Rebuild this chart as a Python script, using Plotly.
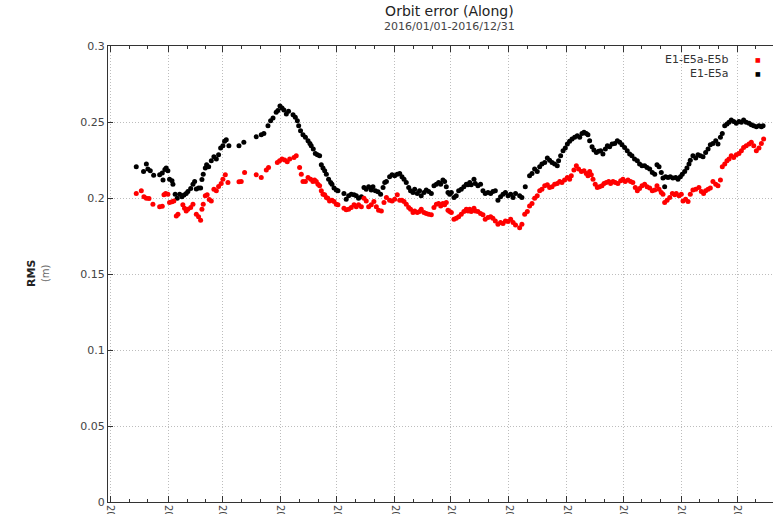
import pandas as pd
import plotly.graph_objects as go

# ---------------- data (day offset from 2016-01-01, RMS in metres) ----------------
e1e5a_days = [13.8,17.7,19.2,20.0,21.3,23.1,26.3,27.7,28.1,29.1,29.8,30.7,31.6,32.9,33.4,34.6,35.7,37.0,38.2,39.3,
              40.5,41.4,42.9,44.1,45.0,45.9,47.1,48.2,48.9,49.6,50.7,51.4,52.5,53.9,55.3,56.6,57.8,58.9,60.1,61.0,
              61.9,63.3,68.7,71.3,77.9,
              80.6,82.0,84.2,85.6,86.9,88.6,89.5,90.6,91.7,92.7,94.0,95.2,97.6,98.8,99.9,100.6,101.6,102.9,104.2,105.6,
              106.6,107.3,108.4,109.5,110.6,111.8,112.7,113.6,114.5,115.4,116.6,117.7,118.4,119.5,120.7,121.6,124.8,126.0,127.3,128.7,
              130.2,131.4,132.6,134.1,135.5,136.7,138.0,139.4,140.3,141.6,143.0,144.4,145.7,146.6,147.5,
              149.2,150.5,151.9,153.3,154.6,155.8,156.9,158.1,159.4,160.4,161.7,162.6,164.0,165.2,166.1,167.6,168.8,170.1,171.5,172.9,
              174.2,175.4,176.5,177.7,178.6,179.5,180.4,181.3,182.2,183.6,184.8,186.1,187.5,188.9,190.2,191.1,192.0,192.8,194.3,195.0,
              196.4,197.8,199.1,200.3,201.8,203.2,204.4,205.7,207.1,208.5,209.8,211.1,212.5,213.9,215.2,216.5,
              218.7,219.9,221.7,224.0,225.3,226.7,228.1,229.4,230.6,232.1,233.5,234.7,236.0,237.4,238.8,239.5,240.6,241.9,243.1,244.2,
              245.4,246.7,248.1,249.5,250.8,252.0,253.1,254.3,255.2,256.1,257.4,258.4,259.7,260.9,262.0,263.2,264.5,265.6,266.8,268.1,
              269.5,270.9,272.2,273.4,274.8,276.2,277.5,278.7,280.1,281.6,282.8,284.1,
              285.5,286.8,288.2,289.6,290.9,292.1,293.2,294.4,295.3,296.2,296.7,298.0,299.2,300.6,302.1,303.3,304.6,305.6,306.9,308.1,
              309.2,309.9,311.3,312.8,314.0,315.3,316.7,318.1,319.4,320.6,322.0,323.5,324.7,326.0,327.0,328.3,329.5,330.6,331.8,333.1,
              334.5,335.9,337.2,338.4,339.8,341.3,342.5,343.8,345.2,346.6,347.9,348.8]
e1e5a_rms = [0.2205,0.2175,0.2223,0.219,0.218,0.215,0.2153,0.2164,0.2118,0.2188,0.2197,0.218,0.2124,0.2113,0.2091,0.2025,0.1999,0.2025,0.2008,0.2019,
             0.203,0.2043,0.2063,0.2091,0.2109,0.206,0.2065,0.2065,0.2122,0.2157,0.2197,0.2219,0.2205,0.2245,0.2271,0.2256,0.2285,0.2329,0.2344,0.2373,
             0.2384,0.2344,0.2344,0.2366,0.2403,
             0.2416,0.2425,0.2476,0.2509,0.2526,0.2564,0.2575,0.2605,0.2592,0.2579,0.2553,0.257,0.2548,0.2531,0.2509,0.2476,0.2443,0.2416,0.2399,0.2377,
             0.2359,0.2344,0.2322,0.2293,0.2285,0.2278,0.2219,0.2197,0.2179,0.2157,0.2124,0.2102,0.2091,0.2065,0.2052,0.2047,0.203,0.1992,0.2014,0.2025,
             0.2021,0.2014,0.1999,0.2008,0.2069,0.2058,0.2074,0.2052,0.2074,0.2047,0.2041,0.2025,0.2069,0.2102,0.2109,
             0.214,0.2153,0.2146,0.2157,0.2162,0.214,0.2124,0.2102,0.2069,0.2047,0.2036,0.2058,0.203,0.2047,0.2014,0.2036,0.2052,0.2043,0.203,0.208,
             0.2091,0.2102,0.2091,0.2118,0.2109,0.2074,0.2036,0.2025,0.2036,0.2003,0.2014,0.2047,0.2058,0.2074,0.2091,0.2087,0.2102,0.2087,0.2124,0.2096,
             0.208,0.2091,0.2047,0.203,0.2036,0.203,0.2043,0.2047,0.1986,0.2008,0.2025,0.2036,0.2014,0.2025,0.2003,0.203,
             0.2014,0.2003,0.2074,0.2146,0.2162,0.219,0.2175,0.2205,0.2223,0.2234,0.2263,0.2249,0.2234,0.2223,0.2212,0.2245,0.2278,0.2311,0.2329,0.2355,
             0.2373,0.2388,0.2399,0.241,0.2399,0.2425,0.2432,0.2425,0.2416,0.2377,0.2337,0.2315,0.23,0.2307,0.2311,0.2289,0.2322,0.2344,0.2337,0.2355,
             0.2359,0.2377,0.2366,0.2351,0.2333,0.2311,0.2289,0.2278,0.2256,0.2245,0.2223,0.2212,
             0.2212,0.2201,0.219,0.2168,0.2157,0.2219,0.2205,0.2168,0.2131,0.2074,0.214,0.2135,0.214,0.2131,0.2135,0.2124,0.214,0.2157,0.2175,0.2197,
             0.2223,0.2249,0.2278,0.2263,0.2285,0.2278,0.2271,0.23,0.2322,0.2351,0.2359,0.2377,0.2355,0.2399,0.2425,0.2476,0.2487,0.2498,0.2513,0.2504,
             0.2491,0.2504,0.2498,0.2513,0.2498,0.2491,0.2482,0.2476,0.2469,0.2476,0.2469,0.2476]

e1e5ae5b_days = [13.8,16.5,17.9,19.2,20.6,22.7,26.3,27.7,28.6,29.5,30.7,31.6,32.9,33.9,35.2,36.1,38.7,39.6,40.5,41.4,
                 42.9,44.1,45.9,47.1,48.2,48.9,49.6,50.7,51.7,52.8,53.9,55.3,56.6,57.8,59.2,60.1,61.4,62.8,68.7,69.9,
                 71.7,77.9,
                 80.6,83.3,84.5,89.2,90.4,91.7,93.1,94.5,95.8,98.1,99.3,101.1,102.0,102.9,104.2,105.6,107.0,108.2,109.1,110.0,
                 110.9,111.8,112.7,113.6,114.5,115.4,116.2,117.1,118.4,119.5,120.7,121.6,124.8,126.0,127.3,128.7,130.2,131.4,132.6,134.1,
                 135.5,136.7,138.0,139.4,140.8,142.1,143.3,144.8,146.2,147.5,
                 149.2,150.5,151.9,153.3,154.6,155.8,156.9,158.1,159.4,160.4,161.7,162.6,164.0,165.2,166.1,167.6,168.8,170.1,171.5,172.9,
                 174.2,175.4,176.5,177.7,178.6,179.5,180.4,181.3,182.2,183.6,184.8,186.1,187.5,188.9,190.2,191.1,192.0,192.8,194.3,195.0,
                 196.4,197.8,199.1,200.3,201.8,203.2,204.4,205.7,207.1,208.5,209.8,211.1,212.5,213.9,215.2,216.5,
                 218.7,219.9,221.4,222.8,224.0,225.3,226.7,228.1,229.4,230.6,232.1,233.5,234.7,236.0,237.4,238.8,240.1,241.3,242.7,244.2,
                 245.4,246.3,247.7,249.0,250.2,251.7,253.1,254.3,255.2,256.1,257.0,257.9,259.1,260.2,261.4,262.7,263.8,265.0,266.3,267.3,
                 268.6,269.8,271.2,272.7,273.9,275.1,276.6,278.0,279.2,280.5,281.6,282.8,284.1,
                 285.5,286.8,288.2,289.6,290.9,292.1,293.2,294.4,295.3,296.2,297.5,298.9,300.3,301.6,302.4,303.9,305.1,306.0,307.4,308.7,
                 309.9,311.3,312.8,314.5,315.8,317.0,318.1,319.4,320.6,322.0,323.5,324.7,326.0,327.0,328.3,329.5,330.6,331.8,333.1,334.5,
                 335.9,337.2,338.4,339.8,341.3,342.5,343.8,345.2,346.6,347.9,349.1]
e1e5ae5b_rms = [0.203,0.2047,0.2008,0.1999,0.1997,0.1959,0.1942,0.1946,0.2021,0.203,0.2025,0.197,0.1975,0.1981,0.1882,0.1893,0.1955,0.1933,0.1915,0.1926,
                0.1937,0.1959,0.1893,0.1876,0.1854,0.1926,0.1959,0.2014,0.2021,0.199,0.1981,0.2058,0.2047,0.2076,0.2096,0.2124,0.2153,0.2102,0.2107,0.2109,
                0.2168,0.2153,
                0.2135,0.2184,0.2201,0.2234,0.2245,0.2256,0.225,0.2238,0.2256,0.2267,0.2278,0.2201,0.2157,0.2109,0.2109,0.2135,0.2124,0.2109,0.2118,0.2109,
                0.2091,0.208,0.2047,0.2025,0.2021,0.2003,0.1999,0.1981,0.1986,0.1977,0.1959,0.1955,0.1933,0.1922,0.1926,0.1937,0.1955,0.1942,0.1955,0.1942,
                0.1999,0.1981,0.1942,0.1955,0.1977,0.1942,0.192,0.1915,0.197,0.2003,
                0.1986,0.1981,0.1992,0.2021,0.1986,0.1986,0.1977,0.1959,0.1937,0.1926,0.1904,0.1915,0.1904,0.1911,0.1926,0.1904,0.1898,0.1893,0.1889,0.1937,
                0.1959,0.1964,0.1948,0.1964,0.1955,0.197,0.192,0.1911,0.1904,0.186,0.1867,0.1876,0.1893,0.1911,0.1926,0.1915,0.1926,0.1911,0.1933,0.1915,
                0.1911,0.1898,0.1889,0.186,0.1871,0.1876,0.1867,0.1849,0.1827,0.1838,0.1832,0.1849,0.1845,0.186,0.1838,0.1823,
                0.1805,0.1827,0.1893,0.1911,0.1948,0.1964,0.1999,0.2014,0.2047,0.2058,0.208,0.2087,0.2069,0.2074,0.2091,0.2096,0.2109,0.2102,0.2118,0.2135,
                0.2124,0.2146,0.2184,0.2212,0.219,0.2175,0.2179,0.2162,0.2146,0.2175,0.2153,0.2124,0.2091,0.2069,0.2074,0.208,0.2096,0.2102,0.2109,0.2096,
                0.2109,0.2102,0.2096,0.2113,0.2124,0.2109,0.2118,0.2109,0.2102,0.2069,0.2047,0.2063,0.208,
                0.2091,0.2074,0.2065,0.2047,0.2052,0.208,0.2058,0.2036,0.2025,0.197,0.1986,0.2003,0.203,0.2021,0.203,0.2014,0.2025,0.1981,0.1992,0.1977,
                0.2025,0.2052,0.2058,0.2069,0.2043,0.203,0.2047,0.2058,0.2065,0.2109,0.2091,0.208,0.2118,0.2205,0.2223,0.2245,0.2256,0.2278,0.2267,0.2285,
                0.2293,0.2311,0.2333,0.2344,0.2355,0.2366,0.2344,0.2311,0.2329,0.2359,0.2388]

y_tick_values = [0, 0.05, 0.1, 0.15, 0.2, 0.25, 0.3]
y_tick_labels = ["0", "0.05", "0.1", "0.15", "0.2", "0.25", "0.3"]
series_names = ["E1-E5a-E5b", "E1-E5a"]
series_colors = ["#ff0000", "#000000"]

start = pd.Timestamp("2016-01-01")
def to_dates(days):
    return [start + pd.Timedelta(days=d) for d in days]

FONT = "DejaVu Sans"
GRID = dict(showgrid=True, gridcolor="#bdbdbd", griddash="1px,2px", gridwidth=1)
fig = go.Figure()
fig.add_trace(go.Scatter(x=to_dates(e1e5a_days), y=e1e5a_rms, mode="markers", name=series_names[1],
                         marker=dict(color=series_colors[1], size=5, line=dict(width=0))))
fig.add_trace(go.Scatter(x=to_dates(e1e5ae5b_days), y=e1e5ae5b_rms, mode="markers", name=series_names[0],
                         marker=dict(color=series_colors[0], size=5, line=dict(width=0))))

major = pd.date_range("2016-01-01", "2016-12-01", freq="MS")
minor = [m + pd.Timedelta(days=k) for m in major for k in (10, 20)]

fig.update_layout(
    width=773, height=514,
    margin=dict(l=108, r=0, t=46, b=12, autoexpand=False),
    paper_bgcolor="white", plot_bgcolor="white",
    showlegend=False,
    font=dict(family=FONT, size=11, color="#333"),
)
fig.update_xaxes(
    type="date", automargin=False,
    range=[start + pd.Timedelta(days=-1.3), start + pd.Timedelta(days=354.1)],
    tickmode="array", tickvals=list(major), ticktext=[d.strftime("%Y/%m/%d") for d in major],
    tickangle=90, tickfont=dict(size=10, color="#444"),
    ticks="inside", ticklen=6, tickcolor="#333",
    showline=True, linecolor="#333", linewidth=1, mirror="ticks",
    minor=dict(tickmode="array", tickvals=minor, ticks="inside", ticklen=3, tickcolor="#333", showgrid=False),
    zeroline=False, **GRID,
)
fig.update_yaxes(
    range=[0, 0.3], automargin=False,
    tickmode="array", tickvals=y_tick_values, ticktext=y_tick_labels,
    tickfont=dict(size=11, color="#444"),
    ticks="inside", ticklen=5, tickcolor="#333",
    showline=True, linecolor="#333", linewidth=1, mirror=False,
    zeroline=False, **GRID,
)

# title + subtitle (one text block)
fig.add_annotation(text="<span style='font-size:14px;color:#222'>Orbit error (Along)</span><br>2016/01/01-2016/12/31",
                   xref="paper", yref="paper", x=(449 - 108) / 665, y=1 + (46 - 18) / 456,
                   showarrow=False, font=dict(size=11, color="#444", family=FONT), xanchor="center", yanchor="middle")
# y axis title
fig.add_annotation(text="<b>RMS</b><br><span style='font-size:10px;color:#666'>(m)</span>", textangle=-90,
                   xref="paper", yref="paper", x=(38 - 108) / 665, y=0.5, showarrow=False,
                   font=dict(size=11, color="#222", family=FONT), xanchor="center", yanchor="middle")
# legend
for i, (name, col) in enumerate(zip(series_names, series_colors)):
    yy = 1 - (13 + 14 * i) / 456
    fig.add_annotation(text=name, xref="paper", yref="paper", x=(731 - 108) / 665, y=yy, showarrow=False,
                       font=dict(size=11, color="#333", family=FONT), xanchor="right", yanchor="middle")
    fig.add_annotation(text="■", xref="paper", yref="paper", x=(758 - 108) / 665, y=yy, showarrow=False,
                       font=dict(size=6, color=col, family=FONT), xanchor="center", yanchor="middle")

fig.write_html("out.html", config={"displayModeBar": False},
               post_script="document.body.style.margin='0';document.body.style.overflow='hidden';")
